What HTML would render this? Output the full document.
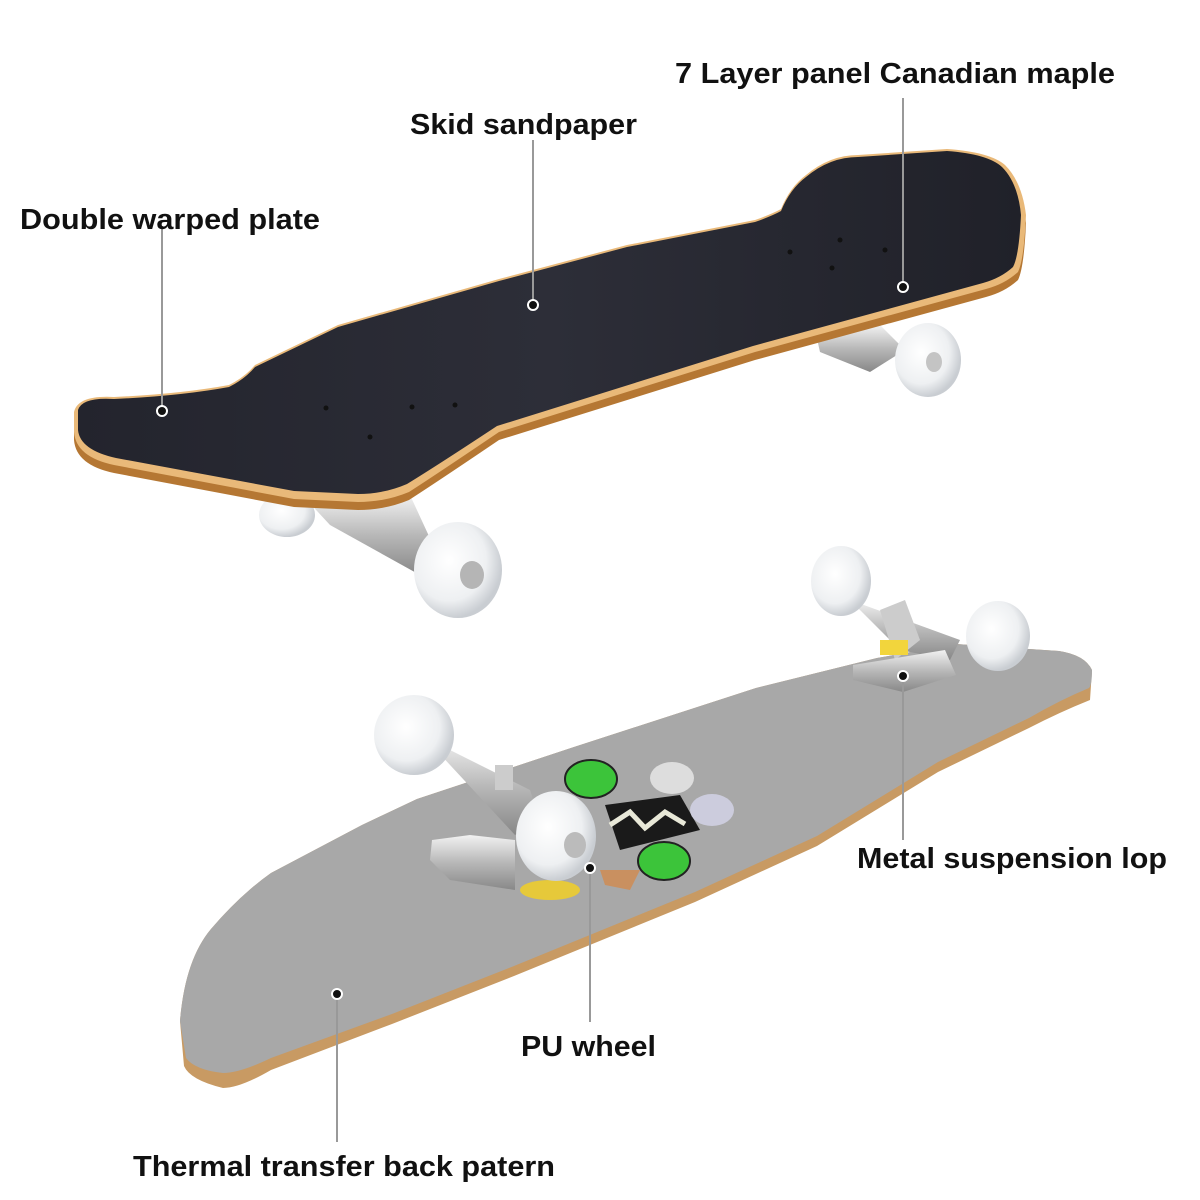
<!DOCTYPE html>
<html><head><meta charset="utf-8"><style>
html,body{margin:0;padding:0;background:#fff;width:1200px;height:1200px;overflow:hidden}
svg text{font-family:"Liberation Sans",Arial,sans-serif;font-weight:bold;font-size:29px;fill:#111}
</style></head><body>
<svg width="1200" height="1200" viewBox="0 0 1200 1200" xmlns="http://www.w3.org/2000/svg">
<defs>
<radialGradient id="wh" cx="40%" cy="40%" r="60%"><stop offset="0" stop-color="#ffffff"/><stop offset="0.7" stop-color="#eef0f2"/><stop offset="1" stop-color="#c9cdd2"/></radialGradient>
<linearGradient id="met" x1="0" y1="0" x2="0" y2="1"><stop offset="0" stop-color="#f2f2f2"/><stop offset="0.5" stop-color="#b8b8b8"/><stop offset="1" stop-color="#888"/></linearGradient>
<linearGradient id="grip" x1="0" y1="0" x2="1" y2="0"><stop offset="0" stop-color="#23242d"/><stop offset="0.5" stop-color="#2d2e38"/><stop offset="1" stop-color="#202129"/></linearGradient>
</defs>

<!-- top board trucks/wheels (behind) -->
<path d="M815,330 L880,325 L905,350 L870,372 L820,352Z" fill="url(#met)"/>
<ellipse cx="928" cy="360" rx="33" ry="37" fill="url(#wh)"/>
<ellipse cx="934" cy="362" rx="8" ry="10" fill="#c4c4c4"/>
<ellipse cx="287" cy="515" rx="28" ry="22" fill="url(#wh)"/>
<path d="M305,498 L410,495 L440,560 L420,575 L330,525Z" fill="url(#met)"/>
<ellipse cx="458" cy="570" rx="44" ry="48" fill="url(#wh)"/>
<ellipse cx="472" cy="575" rx="12" ry="14" fill="#b5b5b5"/>

<!-- top deck -->
<path d="M74,420 Q78,400 114,405 Q180,402 229,393 Q245,385 255,373 L338,333 L499,287 L627,253 L755,228 Q772,222 781,217 Q790,195 806,183 Q830,163 858,163 L947,157 Q990,160 1005,173 Q1022,190 1026,223 Q1024,268 1018,280 Q1005,292 986,297 L755,360 L499,440 Q440,480 409,500 Q385,510 358,510 L294,507 L114,473 Q76,465 74,440Z" fill="#b57733"/>
<path d="M74,412 Q78,395 114,397 Q180,394 229,385 Q245,377 255,365 L338,325 L499,279 L627,245 L755,220 Q772,214 781,209 Q790,187 806,175 Q830,155 858,155 L947,149 Q990,152 1005,165 Q1022,182 1026,215 Q1024,260 1018,272 Q1005,284 986,289 L755,352 L499,432 Q440,472 409,492 Q385,502 358,502 L294,499 L114,465 Q76,457 74,432Z" fill="#e9b979"/>
<path d="M78,410 Q82,397 114,399 Q180,396 229,387 Q245,379 255,367 L338,327 L499,281 L627,247 L755,222 Q772,216 781,211 Q790,189 806,177 Q830,157 858,157 L947,151 Q988,154 1002,167 Q1018,183 1021,215 Q1019,256 1013,267 Q1001,278 983,283 L753,346 L497,426 Q438,465 407,484 Q384,494 358,494 L294,491 L116,458 Q80,450 78,430Z" fill="url(#grip)"/>
<g fill="#111"><circle cx="326" cy="408" r="2.5"/><circle cx="370" cy="437" r="2.5"/><circle cx="412" cy="407" r="2.5"/><circle cx="455" cy="405" r="2.5"/><circle cx="790" cy="252" r="2.5"/><circle cx="840" cy="240" r="2.5"/><circle cx="832" cy="268" r="2.5"/><circle cx="885" cy="250" r="2.5"/></g>

<!-- bottom deck -->
<path d="M180,1021 Q185,960 211,929 Q240,895 271,873 L362,825 L417,799 L574,747 L756,688 L877,658 L956,644 L1059,651 Q1085,655 1092,670 L1090,700 Q1060,712 1029,728 L938,772 L817,846 L695,902 L514,976 L392,1024 L271,1070 Q240,1088 223,1088 Q190,1080 184,1066Z" fill="#c89a63"/>
<path d="M180,1021 Q185,960 211,929 Q240,895 271,873 L362,825 L417,799 L574,747 L756,688 L877,658 L956,644 L1059,651 Q1085,655 1092,670 Q1092,685 1089,688 Q1060,700 1029,718 L938,762 L817,836 L695,892 L514,966 L392,1014 L271,1058 Q240,1073 223,1073 Q195,1070 186,1058Z" fill="#a8a8a8"/>

<!-- graphic -->
<ellipse cx="591" cy="779" rx="26" ry="19" fill="#3cc43a" stroke="#222" stroke-width="2"/>
<ellipse cx="664" cy="861" rx="26" ry="19" fill="#3cc43a" stroke="#222" stroke-width="2"/>
<path d="M605,805 L680,795 L700,830 L620,850Z" fill="#1a1a1a"/>
<path d="M610,825 L630,812 L645,828 L665,812 L685,824" stroke="#e8e8d8" stroke-width="5" fill="none"/>
<ellipse cx="672" cy="778" rx="22" ry="16" fill="#ddd"/>
<ellipse cx="712" cy="810" rx="22" ry="16" fill="#ccd"/>
<ellipse cx="550" cy="890" rx="30" ry="10" fill="#e6c93a"/>
<path d="M600,870 L640,870 L630,890 L605,885Z" fill="#c99060"/>

<!-- bottom trucks -->
<path d="M850,600 L960,640 L950,660 L900,650Z" fill="url(#met)"/>
<path d="M880,610 L905,600 L920,640 L895,660Z" fill="#ccc"/>
<rect x="880" y="640" width="28" height="15" fill="#f2d53c"/>
<path d="M853,665 L945,650 L956,675 L903,692 L853,680Z" fill="url(#met)"/>
<ellipse cx="841" cy="581" rx="30" ry="35" fill="url(#wh)"/>
<ellipse cx="998" cy="636" rx="32" ry="35" fill="url(#wh)"/>
<path d="M425,738 L440,745 L530,790 L540,820 L515,835 Z" fill="url(#met)"/>
<path d="M432,840 L470,835 L515,840 L515,890 L450,880 L430,860Z" fill="url(#met)"/>
<rect x="495" y="765" width="18" height="25" fill="#ccc"/>
<ellipse cx="414" cy="735" rx="40" ry="40" fill="url(#wh)"/>
<ellipse cx="556" cy="836" rx="40" ry="45" fill="url(#wh)"/>
<ellipse cx="575" cy="845" rx="11" ry="13" fill="#bbb"/>

<!-- leader lines -->
<g stroke="#999" stroke-width="2">
<line x1="162" y1="226" x2="162" y2="410"/>
<line x1="533" y1="140" x2="533" y2="304"/>
<line x1="903" y1="98" x2="903" y2="287"/>
<line x1="903" y1="676" x2="903" y2="840"/>
<line x1="590" y1="868" x2="590" y2="1022"/>
<line x1="337" y1="994" x2="337" y2="1142"/>
</g>
<g fill="#111" stroke="#fff" stroke-width="2">
<circle cx="162" cy="411" r="5"/><circle cx="533" cy="305" r="5"/><circle cx="903" cy="287" r="5"/>
<circle cx="903" cy="676" r="5"/><circle cx="590" cy="868" r="5"/><circle cx="337" cy="994" r="5"/>
</g>

<text x="675" y="83" textLength="440" lengthAdjust="spacingAndGlyphs">7 Layer panel Canadian maple</text>
<text x="410" y="134" textLength="227" lengthAdjust="spacingAndGlyphs">Skid sandpaper</text>
<text x="20" y="229" textLength="300" lengthAdjust="spacingAndGlyphs">Double warped plate</text>
<text x="857" y="868" textLength="310" lengthAdjust="spacingAndGlyphs">Metal suspension lop</text>
<text x="521" y="1056" textLength="135" lengthAdjust="spacingAndGlyphs">PU wheel</text>
<text x="133" y="1176" textLength="422" lengthAdjust="spacingAndGlyphs">Thermal transfer back patern</text>
</svg>
</body></html>
